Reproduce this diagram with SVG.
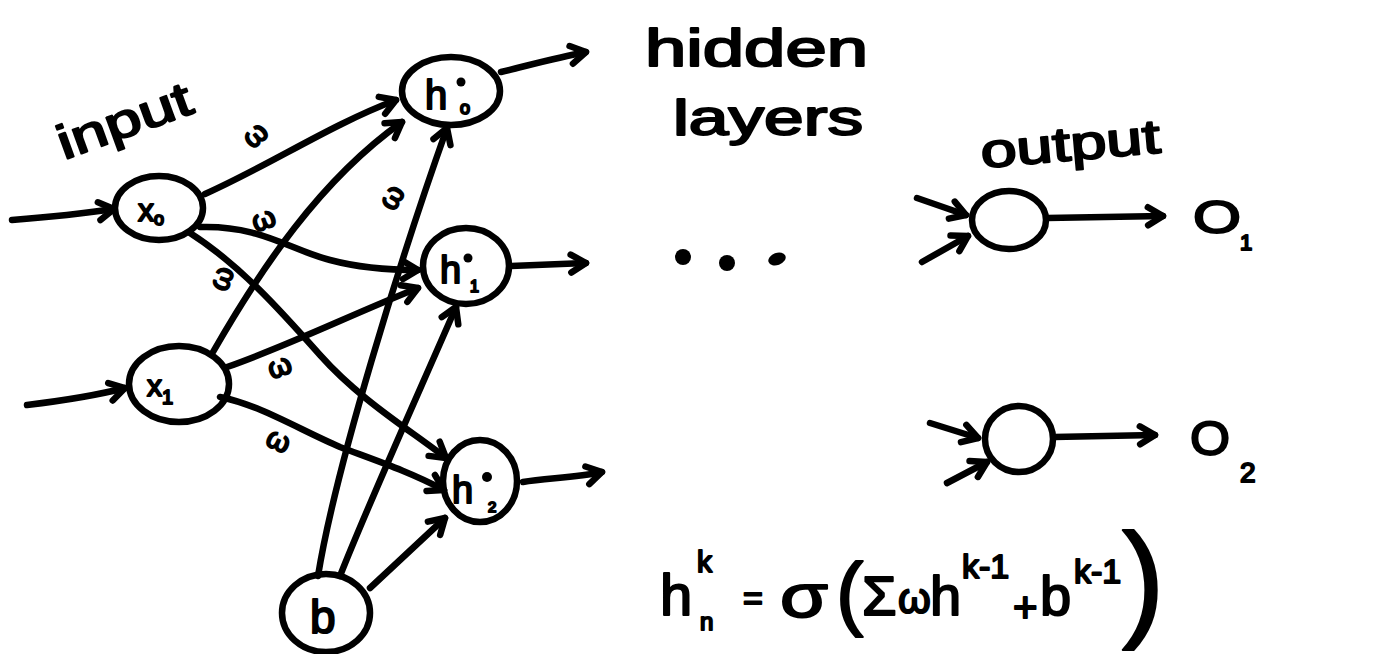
<svg xmlns="http://www.w3.org/2000/svg" width="1390" height="654" viewBox="0 0 1390 654">
<style>
.n{fill:none;stroke:#000;stroke-width:6.5}
.t{font-family:"Liberation Sans",Arial,sans-serif;fill:#000;stroke:#000;stroke-width:2;stroke-linejoin:round}
.c path{fill:none;stroke:#000;stroke-width:6.5;stroke-linecap:round;marker-end:url(#ah)}
</style>
<defs>
<marker id="ah" markerUnits="userSpaceOnUse" viewBox="-20 -15 25 30" refX="0" refY="0" markerWidth="25" markerHeight="30" orient="auto" overflow="visible">
<path d="M-15,-9 L0,0 L-15,9" fill="none" stroke="#000" stroke-width="6.5" stroke-linecap="round" stroke-linejoin="round"/>
</marker>
</defs>
<rect width="1390" height="654" fill="#fff"/>

<g id="labels">
<text class="t" transform="translate(64,160) rotate(-20)" font-size="48" textLength="140" lengthAdjust="spacingAndGlyphs">input</text>
<text class="t" x="645" y="66" font-size="52" textLength="223" lengthAdjust="spacingAndGlyphs">hidden</text>
<text class="t" x="673" y="135" font-size="50" textLength="190" lengthAdjust="spacingAndGlyphs">layers</text>
<text class="t" transform="translate(982,168) rotate(-5)" font-size="48" textLength="180" lengthAdjust="spacingAndGlyphs">output</text>
</g>

<g id="connectors" class="c">
<path d="M12,220 C50,217 80,214 114,209"/>
<path d="M27,405 C60,401 90,397 125,388"/>
<path d="M205,194 C270,165 330,125 396,100"/>
<path d="M200,227 C260,225 290,250 330,260 C360,268 390,270 418,270"/>
<path d="M190,233 C240,265 280,310 320,355 C360,400 410,430 446,458"/>
<path d="M213,352 C260,270 320,180 402,122"/>
<path d="M227,367 C290,345 350,315 418,288"/>
<path d="M220,397 C260,405 300,430 340,447 C380,462 410,472 444,490"/>
<path d="M318,576 C335,470 400,260 447,128"/>
<path d="M340,576 C370,500 420,390 456,307"/>
<path d="M370,588 L445,518"/>
<path d="M501,72 C530,65 555,58 586,52"/>
<path d="M511,266 L586,263"/>
<path d="M523,482 C545,478 575,478 602,472"/>
<path d="M917,198 L966,215"/>
<path d="M922,262 L968,236"/>
<path d="M1047,218 L1163,216"/>
<path d="M930,423 L978,438"/>
<path d="M947,483 L987,462"/>
<path d="M1054,437 L1155,435"/>
</g>

<g id="weights" class="t" font-size="30">
<text transform="translate(256,136) rotate(-40)" text-anchor="middle" dy="8">ω</text>
<text transform="translate(264,221) rotate(-20)" text-anchor="middle" dy="8">ω</text>
<text transform="translate(223,279) rotate(-70)" text-anchor="middle" dy="8">ω</text>
<text transform="translate(393,198) rotate(-60)" text-anchor="middle" dy="8">ω</text>
<text transform="translate(280,368) rotate(-20)" text-anchor="middle" dy="8">ω</text>
<text transform="translate(278,442) rotate(25)" text-anchor="middle" dy="8">ω</text>
</g>

<g id="node-x0"><ellipse class="n" cx="159" cy="208" rx="44" ry="32"/>
<text class="t" x="138" y="221" font-size="32">x<tspan font-size="18" dy="4">o</tspan></text></g>
<g id="node-x1"><ellipse class="n" cx="179" cy="384" rx="50" ry="38"/>
<text class="t" x="147" y="396" font-size="30">x<tspan font-size="20" dy="8">1</tspan></text></g>
<g id="node-h0"><ellipse class="n" cx="451" cy="91" rx="49" ry="34"/>
<text class="t" x="425" y="109" font-size="40">h</text><circle cx="461" cy="82" r="4.5"/>
<text class="t" x="460" y="114" font-size="18">o</text></g>
<g id="node-h1"><ellipse class="n" cx="466" cy="266" rx="43" ry="38"/>
<text class="t" x="440" y="283" font-size="38">h</text><circle cx="468" cy="258" r="4.5"/>
<text class="t" x="470" y="292" font-size="16">1</text></g>
<g id="node-h2"><ellipse class="n" cx="480" cy="481" rx="37" ry="41"/>
<text class="t" x="452" y="503" font-size="38">h</text><circle cx="487" cy="477" r="5"/>
<text class="t" x="488" y="512" font-size="15">2</text></g>
<g id="node-b"><ellipse class="n" cx="326" cy="613" rx="44" ry="39"/>
<text class="t" x="310" y="633" font-size="46">b</text></g>

<g id="dots">
<circle cx="683" cy="257" r="8"/><circle cx="727" cy="263" r="8"/>
<ellipse cx="777" cy="259" rx="9" ry="6" transform="rotate(-20 777 259)"/>
</g>

<g id="node-o1"><ellipse class="n" cx="1009" cy="220" rx="37" ry="29"/></g>
<g id="node-o2"><ellipse class="n" cx="1019" cy="439" rx="34" ry="33"/></g>
<g id="out-labels" class="t">
<text x="1193" y="233" font-size="46" textLength="48" lengthAdjust="spacingAndGlyphs">O</text>
<text x="1240" y="250" font-size="22">1</text>
<text x="1190" y="455" font-size="48" textLength="40" lengthAdjust="spacingAndGlyphs">O</text>
<text x="1240" y="482" font-size="28">2</text>
</g>

<g id="formula" class="t">
<text x="660" y="615" font-size="58">h</text>
<text x="697" y="572" font-size="30">k</text>
<text x="700" y="630" font-size="24">n</text>
<text x="743" y="610" font-size="34">=</text>
<text x="780" y="617" font-size="62" textLength="48" lengthAdjust="spacingAndGlyphs">σ</text>
<text x="836" y="620" font-size="82">(</text>
<text x="862" y="615" font-size="56">Σ</text>
<text x="898" y="613" font-size="42">ω</text>
<text x="930" y="615" font-size="56">h</text>
<text x="962" y="578" font-size="34">k-1</text>
<text x="1013" y="622" font-size="42">+</text>
<text x="1040" y="615" font-size="56">b</text>
<text x="1074" y="583" font-size="34">k-1</text>
<text x="1122" y="623" font-size="128">)</text>
</g>
</svg>
